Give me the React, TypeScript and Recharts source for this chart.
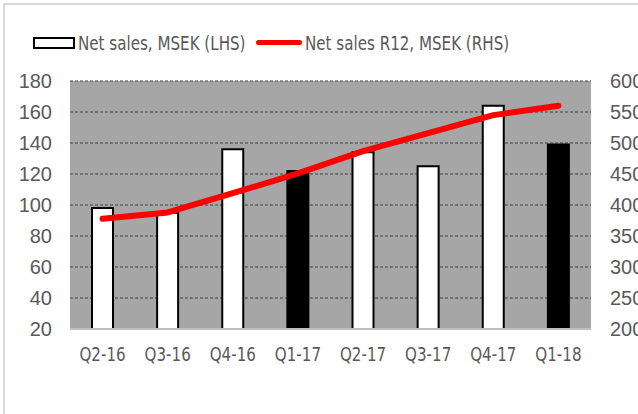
import React from 'react';
import {
  ComposedChart,
  Bar,
  Line,
  XAxis,
  YAxis,
  CartesianGrid,
  Cell
} from 'recharts';

const quarters = ['Q2-16', 'Q3-16', 'Q4-16', 'Q1-17', 'Q2-17', 'Q3-17', 'Q4-17', 'Q1-18'];
const netSales = [98, 95, 136, 122, 134, 125, 164, 139];
const netSalesR12 = [378, 388, 419, 451, 487, 516, 545, 560];
const highlighted = ['Q1-17', 'Q1-18'];

const leftTicks = [20, 40, 60, 80, 100, 120, 140, 160, 180];
const rightTicks = [200, 250, 300, 350, 400, 450, 500, 550, 600];

// tahoma-like look for labels/legend: condensed dejavu squeezed a bit more
const FONT = '"DejaVu Sans Condensed", "DejaVu Sans", sans-serif';
const NUM_FONT = '"Liberation Sans", Arial, sans-serif';
const SQUEEZE = 0.84;
const TEXT = '#595959';

const categoryTick = (props: any) => {
  const { x, y, payload } = props;
  return (
    <text
      transform={`translate(${x} ${y}) scale(${SQUEEZE} 1)`}
      x={0}
      y={0}
      dy="0.71em"
      textAnchor="middle"
      fill={TEXT}
      fontSize={20}
      fontFamily={FONT}
    >
      {payload.value}
    </text>
  );
};

const numTick = { fill: TEXT, fontSize: 20, fontFamily: NUM_FONT };

const squeezed: React.CSSProperties = {
  position: 'absolute',
  top: 0,
  lineHeight: '24px',
  whiteSpace: 'nowrap',
  transform: `scaleX(${SQUEEZE})`,
  transformOrigin: 'left center'
};

const ChartLegend = () => (
  <div style={{ position: 'absolute', left: 0, top: 31, width: 638, height: 24, fontFamily: FONT, fontSize: 20, color: TEXT }}>
    <div style={{ position: 'absolute', left: 33, top: 6, width: 38, height: 8, border: '2px solid #000', background: '#fff' }} />
    <span style={{ ...squeezed, left: 78 }}>Net sales, MSEK (LHS)</span>
    <div style={{ position: 'absolute', left: 256, top: 9, width: 46, height: 5, background: '#ff0000', borderRadius: 3 }} />
    <span style={{ ...squeezed, left: 305 }}>Net sales R12, MSEK (RHS)</span>
  </div>
);

export default function App() {
  const data = quarters.map((q, i) => ({
    name: q,
    sales: netSales[i],
    r12: netSalesR12[i]
  }));

  return (
    <div style={{ position: 'absolute', left: 0, top: 0, width: 638, height: 414, background: '#fff', overflow: 'hidden' }}>
      <div style={{ position: 'absolute', left: 3, top: 3, width: 660, height: 440, border: '2px solid #d9d9d9' }} />
      <ChartLegend />
      <ComposedChart
        width={638}
        height={414}
        data={data}
        margin={{ top: 81, right: 0, left: 0, bottom: 0 }}
        style={{ position: 'absolute', left: 0, top: 0 }}
      >
        <CartesianGrid
          yAxisId="left"
          vertical={false}
          stroke="#404040"
          strokeDasharray="3 2"
          fill="#a6a6a6"
          fillOpacity={1}
        />
        <XAxis
          dataKey="name"
          height={85}
          tickLine={false}
          axisLine={{ stroke: '#bfbfbf', strokeWidth: 2 }}
          tick={categoryTick}
          tickMargin={12}
          interval={0}
        />
        <YAxis
          yAxisId="left"
          width={70}
          domain={[20, 180]}
          ticks={leftTicks}
          tickLine={false}
          axisLine={false}
          tick={numTick}
          tickMargin={12}
        />
        <YAxis
          yAxisId="right"
          orientation="right"
          width={47}
          domain={[200, 600]}
          ticks={rightTicks}
          tickLine={false}
          axisLine={false}
          tick={numTick}
          tickMargin={13}
        />
        <Bar
          yAxisId="left"
          dataKey="sales"
          name="Net sales, MSEK (LHS)"
          barSize={21}
          stroke="#000"
          strokeWidth={2}
          isAnimationActive={false}
        >
          {data.map((d) => (
            <Cell key={d.name} fill={highlighted.includes(d.name) ? '#000' : '#fff'} />
          ))}
        </Bar>
        <Line
          yAxisId="right"
          type="linear"
          dataKey="r12"
          name="Net sales R12, MSEK (RHS)"
          stroke="#ff0000"
          strokeWidth={6}
          strokeLinecap="round"
          strokeLinejoin="round"
          dot={false}
          activeDot={false}
          isAnimationActive={false}
        />
      </ComposedChart>
    </div>
  );
}
